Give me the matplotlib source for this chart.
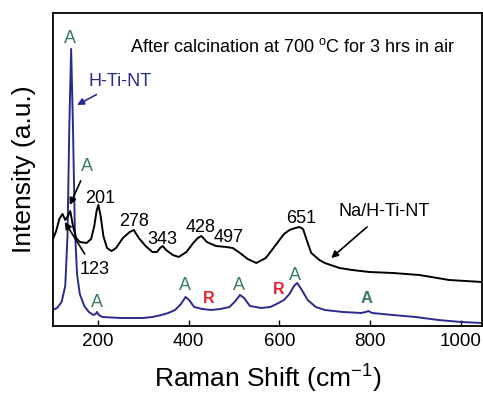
import numpy as np
import matplotlib
matplotlib.use("Agg")
from matplotlib import pyplot as plt

plt.rcParams['font.family'] = ['Liberation Sans', 'DejaVu Sans']
plt.rcParams['mathtext.fontset'] = 'custom'
plt.rcParams['mathtext.rm'] = 'Liberation Sans'

# H-Ti-NT spectrum (blue)
shift_h = [100, 110, 120, 128, 133, 137, 141, 145, 149, 154, 160, 170, 180, 190, 195, 198,
           202, 210, 250, 300, 320, 340, 355, 370, 383, 393, 401, 412, 430, 450, 470, 490,
           503, 513, 522, 535, 560, 580, 598, 610, 622, 632, 639, 648, 662, 680, 700, 740,
           780, 790, 796, 804, 850, 900, 950, 1000, 1046]
inten_h = [16, 18, 24, 40, 90, 200, 277, 200, 100, 52, 32, 20, 14, 11, 12, 14,
           11, 9, 8, 8, 9, 11, 13, 16, 22, 29, 26, 19, 17, 16, 17, 19,
           25, 31, 28, 20, 18, 19, 23, 26, 32, 40, 43, 37, 26, 19, 16, 14,
           13, 14, 15, 13, 11, 9, 6, 4, 3]

# Na/H-Ti-NT spectrum (black)
shift_na = [100, 108, 115, 122, 128, 134, 139, 145, 152, 160, 175, 185, 192, 197, 201, 206,
            212, 220, 230, 240, 255, 270, 279, 290, 305, 320, 330, 337, 343, 350, 365, 378,
            395, 410, 420, 428, 440, 460, 483, 497, 510, 530, 549, 570, 590, 610, 622, 635,
            644, 652, 660, 670, 688, 700, 732, 760, 798, 850, 908, 974, 1046]
inten_na = [86, 95, 107, 112, 106, 110, 115, 100, 88, 84, 83, 87, 100, 115, 121, 110,
            90, 78, 75, 78, 88, 94, 96, 88, 80, 74, 74, 78, 80, 76, 71, 69,
            74, 83, 88, 90, 84, 80, 79, 78, 74, 67, 63, 68, 80, 92, 96, 98,
            99, 97, 86, 73, 66, 63, 58, 56, 54, 53, 51, 46, 44]

peak_labels = ['201', '278', '343', '428', '497', '651']
peak_pos = [(204, 127), (279, 104), (343, 86), (426, 98), (488, 88), (648, 107)]

anatase_pos = [(198, 23), (391, 40), (510, 40), (635, 50)]
rutile_pos = [(444, 27), (598, 36)]

navy = '#2b2b8c'
green = '#3b7d5e'
red = '#e8202a'

fig = plt.figure(figsize=(4.83, 3.95), dpi=100)
ax = fig.add_axes([0.1097, 0.1747, 0.888, 0.7924])

ax.plot(shift_h, inten_h, color=navy, lw=1.4)
ax.plot(shift_na, inten_na, color='black', lw=1.4)

ax.set_xlim(101, 1046)
ax.set_ylim(0, 313)
ax.set_xticks([200, 400, 600, 800, 1000])
ax.set_yticks([])
ax.tick_params(axis='x', direction='in', length=4, width=1, labelsize=13.5, pad=5)
for s in ax.spines.values():
    s.set_linewidth(1.3)

ax.set_xlabel('Raman Shift (cm$^{-1}$)', fontsize=19, labelpad=8)
ax.set_ylabel('Intensity (a.u.)', fontsize=19, labelpad=12)

ax.text(270, 279, 'After calcination at 700 $^{\\mathrm{o}}$C for 3 hrs in air',
        fontsize=13, ha='left', va='center')

# labels on the blue curve
ax.text(138, 287, 'A', color=green, fontsize=13, ha='center', va='center')
ax.annotate('H-Ti-NT', xy=(154, 221), xytext=(248, 244), color=navy, fontsize=13,
            ha='center', va='center',
            arrowprops=dict(arrowstyle='-|>', color=navy, lw=1.2, mutation_scale=10,
                            shrinkA=2, shrinkB=0))
for x, y in anatase_pos:
    ax.text(x, y, 'A', color=green, fontsize=13, ha='center', va='center')
ax.text(793, 27, 'A', color=green, fontsize=12, ha='center', va='center', fontweight='bold')
for x, y in rutile_pos:
    ax.text(x, y, 'R', color=red, fontsize=11.5, ha='center', va='center', fontweight='bold')

# labels on the black curve
ax.annotate('A', xy=(138, 121), xytext=(176, 159), color=green, fontsize=13,
            ha='center', va='center',
            arrowprops=dict(arrowstyle='-|>', color='black', lw=1.2, mutation_scale=10,
                            shrinkA=2, shrinkB=0))
ax.annotate('123', xy=(127, 104), xytext=(193, 56), fontsize=13, ha='center', va='center',
            arrowprops=dict(arrowstyle='-|>', color='black', lw=1.2, mutation_scale=10,
                            shrinkA=4, shrinkB=0))
for lab, (x, y) in zip(peak_labels, peak_pos):
    ax.text(x, y, lab, fontsize=13, ha='center', va='center')
ax.annotate('Na/H-Ti-NT', xy=(714, 68), xytext=(831, 114), fontsize=13, ha='center', va='center',
            arrowprops=dict(arrowstyle='-|>', color='black', lw=1.2, mutation_scale=10,
                            shrinkA=4, shrinkB=0))

fig.savefig('out.png', dpi=100)
